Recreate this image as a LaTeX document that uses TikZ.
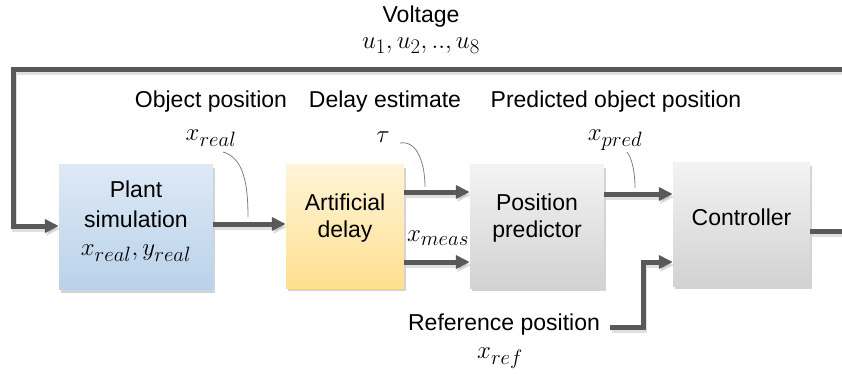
\documentclass[tikz,border=0pt]{standalone}
\usepackage[no-math]{fontspec}
\setmainfont{Liberation Sans}
\usetikzlibrary{arrows.meta,shadows}
\definecolor{linegray}{HTML}{595959}
\definecolor{thingray}{HTML}{7F7F7F}
\definecolor{bluetop}{HTML}{DEE9F5}
\definecolor{bluebot}{HTML}{B9D2EA}
\definecolor{yeltop}{HTML}{FFF4D8}
\definecolor{yelbot}{HTML}{FFE08F}
\definecolor{graytop}{HTML}{F3F3F3}
\definecolor{graybot}{HTML}{D2D2D2}
\begin{document}
\begin{tikzpicture}[x=1pt,y=-1pt,
  blockbox/.style={rectangle, inner sep=0pt, draw=none,
    drop shadow={shadow xshift=1.5pt, shadow yshift=-3pt, opacity=0.35, fill=gray}},
  txt/.style={font=\fontsize{23}{28}\selectfont, inner sep=0pt},
  mth/.style={font=\fontsize{24.88}{28}\selectfont, inner sep=0pt},
  conn/.style={line width=5pt, draw=linegray, line join=miter,
    -{Triangle[length=14pt,width=13pt]},
    preaction={draw=black, opacity=0.12, line width=5pt,
      transform canvas={shift={(1.5pt,-3pt)}}}},
  callout/.style={draw=thingray, line width=0.8pt}
]
\useasboundingbox (0,0) rectangle (842,374);

% blocks
\node[blockbox, minimum width=154pt, minimum height=125pt, top color=bluetop, bottom color=bluebot] (plant) at (136,227) {};
\node[blockbox, minimum width=118pt, minimum height=123pt, top color=yeltop, bottom color=yelbot] (delay) at (345,226.5) {};
\node[blockbox, minimum width=134pt, minimum height=123pt, top color=graytop, bottom color=graybot] (pred) at (537,226.5) {};
\node[blockbox, minimum width=137pt, minimum height=123pt, top color=graytop, bottom color=graybot] (ctrl) at (741.5,224.5) {};

% block texts
\node[txt] (plantA) at (136,189) {Plant};
\node[txt] (plantB) at (136,219) {simulation};
\node[mth] (plantC) at (136,253) {$x_{real},y_{real}$};
\node[txt] (delayA) at (345,202) {Artificial};
\node[txt] (delayB) at (345,232) {delay};
\node[txt] (predA) at (537,202) {Position};
\node[txt] (predB) at (537,232) {predictor};
\node[txt] (ctrlA) at (741.5,217) {Controller};

% labels
\node[txt] (volt) at (421,17) {Voltage};
\node[mth] (uvec) at (421,46) {$u_1,u_2,..,u_8$};
\node[txt] (objpos) at (211,102) {Object position};
\node[txt] (delest) at (385,102) {Delay estimate};
\node[txt] (predpos) at (616,102) {Predicted object position};
\node[mth] (xreal) at (211,138) {$x_{real}$};
\node[mth] (tau) at (383,137) {$\tau$};
\node[mth] (xpred) at (615,140) {$x_{pred}$};
\node[mth] (xmeas) at (438,238) {$x_{meas}$};
\node[txt] (refpos) at (504,325) {Reference position};
\node[mth] (xref) at (500,358) {$x_{ref}$};

% coordinates for connectors
\coordinate (fbR1) at (850,231);
\coordinate (fbR2) at (850,70);
\coordinate (fbL1) at (13,70);
\coordinate (fbL2) at (13,226);
\coordinate (refA) at (610,327);
\coordinate (refB) at (643,327);
\coordinate (refC) at (643,262);

% connectors
\draw[conn] (ctrl.east |- fbR1) -- (fbR1) -- (fbR2) -- (fbL1) -- (fbL2) -- (plant.west |- fbL2);
\draw[conn] (plant.east |- 0,224) -- (delay.west |- 0,224);
\draw[conn] (delay.east |- 0,192) -- (pred.west |- 0,192);
\draw[conn] (delay.east |- 0,262) -- (pred.west |- 0,262);
\draw[conn] (pred.east |- 0,194) -- (ctrl.west |- 0,194);
\draw[conn] (refA) -- (refB) -- (refC) -- (ctrl.west |- refC);

% callout curves
\coordinate (cr1) at (223,152);
\coordinate (cr2) at (248,217);
\coordinate (ct1) at (400,143);
\coordinate (ct2) at (425,187);
\coordinate (cp1) at (627,152);
\coordinate (cp2) at (635,188);
\draw[callout] (cr1) .. controls (244,158) and (248,185) .. (cr2);
\draw[callout] (ct1) .. controls (418,140) and (425,165) .. (ct2);
\draw[callout] (cp1) .. controls (633,160) and (635,175) .. (cp2);
\end{tikzpicture}
\end{document}
